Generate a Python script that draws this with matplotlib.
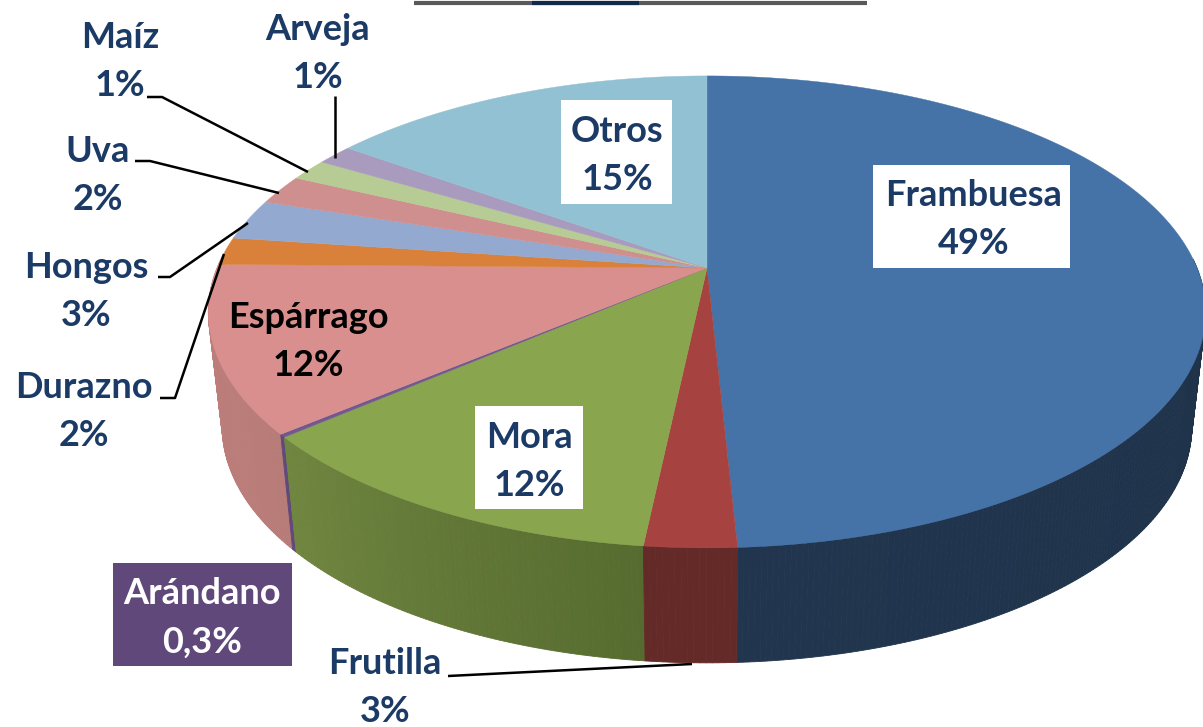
import numpy as np
import matplotlib
matplotlib.use('Agg')
import matplotlib.pyplot as plt
from matplotlib.patches import Polygon, Rectangle
from matplotlib.colors import to_rgb

# shares as measured on the drawn pie, clockwise from the top
names = ['Frambuesa', 'Frutilla', 'Mora', 'Arándano', 'Espárrago', 'Durazno',
         'Hongos', 'Uva', 'Maíz', 'Arveja', 'Otros']
shares = [49.2, 2.5, 12.0, 0.2, 11.37, 1.9, 2.8, 2.05, 1.5, 1.4, 15.1]
pct_labels = ['49%', '3%', '12%', '0,3%', '12%', '2%', '3%', '2%', '1%', '1%', '15%']

top_colors = ['#4572a7', '#a64340', '#89a54e', '#71588f', '#d88f8d', '#d9813a',
              '#93a9cf', '#cf8f8e', '#b7cb94', '#a99bbd', '#92c1d3']
# side wall colours, at start and end of each slice
wall_start = ['#1b2d45', '#632a28', '#566b2f', '#60497a', '#b87c78', '#b87c78',
              '#7b8cab', '#aa7775', '#96a87a', '#8b7f9b', '#78a0ae']
wall_end = ['#21364e', '#632a28', '#708640', '#60497a', '#c07f7d', '#b87c78',
            '#7b8cab', '#aa7775', '#96a87a', '#8b7f9b', '#78a0ae']

# pie geometry in pixels, perspective model of a tilted disc
CX, CY = 707, 268
PERSP = 0.186
RX, RY = 490, 227.8
DEPTH = 115
SHRINK = 0.972
NAVY = '#1b3a66'

# label: slice index, centre x, centre y, colour, box colour
label_spots = [
    (0, 974, 220, NAVY, 'white'),
    (10, 617, 155, NAVY, 'white'),
    (2, 529, 462, NAVY, 'white'),
    (3, 202, 618, 'white', '#60497a'),
    (4, 308, 341, 'black', None),
    (1, 385, 688, NAVY, None),
    (5, 84, 411, NAVY, None),
    (6, 86, 291, NAVY, None),
    (7, 98, 176, NAVY, None),
    (8, 120, 62, NAVY, None),
    (9, 318, 53, NAVY, None),
]
boxes = {0: (873, 165, 197, 103), 10: (561, 100, 111, 104),
         2: (475, 406, 108, 103), 3: (113, 563, 179, 103)}
leaders = [
    ([147, 162, 308], [97, 97, 172]),
    ([135, 150, 279], [161, 161, 193]),
    ([158, 170, 248], [277, 277, 223]),
    ([160, 175, 224], [398, 398, 254]),
    ([335, 335], [96, 158]),
    ([448, 692], [676, 664]),
]


def rim(theta):
    # theta clockwise from the top, radians
    u, v = np.sin(theta), np.cos(theta)
    w = 1 + PERSP * v
    return RX * u / w, RY * v / w


def top_pts(theta):
    sx, sy = rim(theta)
    return np.column_stack([CX + sx, CY - sy])


def low_pts(theta):
    sx, sy = rim(theta)
    return np.column_stack([CX + sx * SHRINK, CY - sy + DEPTH])


fig, ax = plt.subplots(figsize=(12.03, 7.27), dpi=100)
fig.subplots_adjust(0, 0, 1, 1)
ax.set_xlim(0, 1203)
ax.set_ylim(727, 0)
ax.axis('off')

total = sum(shares)
edges = np.concatenate([[0], np.cumsum(shares)]) / total * 2 * np.pi

# walls first, only the front part shows
quads = []
for i in range(len(shares)):
    steps = max(2, int((edges[i + 1] - edges[i]) / 0.01))
    th = np.linspace(edges[i], edges[i + 1], steps + 1)
    c0, c1 = np.array(to_rgb(wall_start[i])), np.array(to_rgb(wall_end[i]))
    t, b = top_pts(th), low_pts(th)
    for j in range(steps):
        if np.cos(th[j]) > 0.05:
            continue
        col = c0 + (c1 - c0) * (j + 0.5) / steps
        quads.append((t[j:j + 2].mean(axis=0)[1], np.vstack([t[j], t[j + 1], b[j + 1], b[j]]), col))
quads.sort(key=lambda q: q[0])
for _, pts, col in quads:
    ax.add_patch(Polygon(pts, closed=True, facecolor=col, edgecolor=col, linewidth=0.6, zorder=1))

# top face
for i in range(len(shares)):
    th = np.linspace(edges[i], edges[i + 1], 200)
    pts = np.vstack([[CX, CY], top_pts(th)])
    ax.add_patch(Polygon(pts, closed=True, facecolor=top_colors[i], edgecolor=top_colors[i],
                         linewidth=0.3, zorder=2))

# grey rule cut by the slide's frame
ax.plot([414, 867], [3, 3], color='#595959', linewidth=3, solid_capstyle='butt', zorder=3)
ax.plot([532, 639], [3, 3], color='#0f2a4a', linewidth=3, solid_capstyle='butt', zorder=4)

for xs, ys in leaders:
    ax.plot(xs, ys, color='black', linewidth=1.8, solid_capstyle='butt', zorder=5)

for idx, x, y, color, box in label_spots:
    if box:
        bx, by, bw, bh = boxes[idx]
        ax.add_patch(Rectangle((bx, by), bw, bh, facecolor=box, edgecolor='none', zorder=6))
    ax.text(x, y - 24, names[idx], ha='center', va='center', family='Lato', weight='bold',
            fontsize=26, color=color, zorder=7)
    ax.text(x, y + 24, pct_labels[idx], ha='center', va='center', family='Lato', weight='bold',
            fontsize=26, color=color, zorder=7)

fig.savefig('out.png', dpi=100)
